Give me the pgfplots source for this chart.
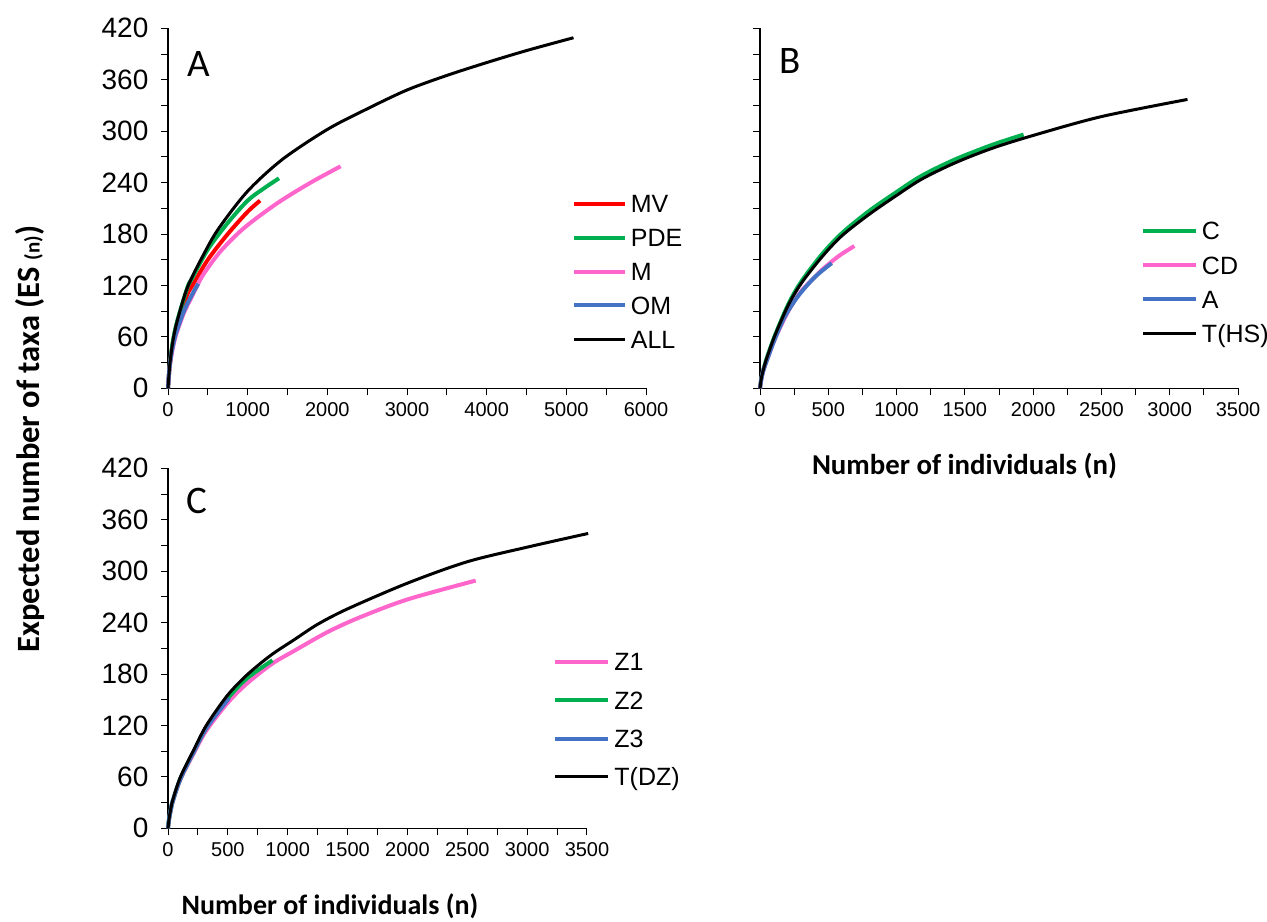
\documentclass[border=0pt]{standalone}
\usepackage{fontspec}
\setmainfont{Liberation Sans}
\newfontfamily\calibri{Carlito}
\usepackage{pgfplots}
\pgfplotsset{compat=1.18}
\definecolor{cred}{HTML}{FF0000}
\definecolor{cgreen}{HTML}{00B050}
\definecolor{cpink}{HTML}{FF66CC}
\definecolor{cblue}{HTML}{4472C4}
\pgfplotsset{
  panel/.style={
    scale only axis, axis x line=bottom, axis y line=left,
    axis line style={-, line width=0.75pt},
    tick align=outside, major tick length=3.5pt, minor tick length=3.5pt,
    tick style={black, line width=0.5pt},
    ymin=0, ymax=420, ytick={0,60,...,420}, minor y tick num=1,
    xmin=0, minor x tick num=1,
    height=180pt,
    /pgf/number format/1000 sep={},
    /pgf/number format/assume math mode=true,
    yticklabel style={font=\fontsize{14}{16}\selectfont, xshift=-2.8pt},
    xticklabel style={font=\fontsize{10}{12}\selectfont},
    clip=false,
    legend cell align=left,
    legend style={draw=none, fill=none, inner sep=0pt, outer sep=0pt, anchor=north west,
      font=\fontsize{12.5}{14}\selectfont, column sep=2pt,
      nodes={inner sep=0pt, text height=9pt, text depth=0pt}},
  },
  colline/.style={line width=2pt, smooth},
  blkline/.style={line width=1.5pt, smooth, black},
}
\begin{document}
\begin{tikzpicture}
\useasboundingbox (0,0) rectangle (633.5pt,460.5pt);
% Panel A
\begin{axis}[panel, at={(84pt,266.35pt)}, anchor=south west, width=239pt,
  xmax=6000, xtick={0,1000,...,6000},
  legend style={at={(0.845,0.537)}, row sep=7.9pt},
  legend image code/.code={\draw[#1] (0pt,0pt) -- (25.5pt,0pt);}]
\addplot[colline, cred] coordinates {(0,0)(10,13)(25,29)(65,55)(120,78)(245,110)(300,119)(500,150)(750,180)(1000,206)(1156,219)};
\addlegendentry{MV}
\addplot[colline, cgreen] coordinates {(0,0)(10,13)(25,30)(65,57)(120,80)(245,118)(300,128)(500,162)(750,193)(1000,219)(1200,233)(1393,245)};
\addlegendentry{PDE}
\addplot[colline, cpink] coordinates {(0,0)(8,11)(20,24)(50,42)(100,62)(200,88)(300,107)(368,120)(452,134)(661,160)(954,187)(1372,216)(1791,240)(2167,259)};
\addlegendentry{M}
\addplot[colline, cblue] coordinates {(0,0)(8,12)(20,25)(50,44)(100,64)(200,90)(300,109)(380,122)};
\addlegendentry{OM}
\addplot[blkline] coordinates {(0,0)(10,13)(25,30)(65,57)(120,80)(245,118)(452,157)(640,187)(1000,230)(1435,267)(2000,302)(2500,326)(3000,348)(3500,365)(4000,380)(4500,394)(5090,409)};
\addlegendentry{ALL}
\end{axis}
% Panel B
\begin{axis}[panel, at={(380pt,266.35pt)}, anchor=south west, width=239pt,
  xmax=3500, xtick={0,500,...,3500}, yticklabel=\empty,
  legend style={at={(0.797,0.462)}, row sep=8.1pt},
  legend image code/.code={\draw[#1] (0pt,0pt) -- (26.5pt,0pt);}]
\addplot[colline, cgreen] coordinates {(0,0)(10,12)(25,22)(49,35)(110,62)(207,98)(300,124)(452,156)(600,181)(800,207)(1000,229)(1184,248)(1428,267)(1700,284)(1930,296)};
\addlegendentry{C}
\addplot[colline, cpink] coordinates {(0,0)(10,11)(25,21)(49,32)(110,58)(207,90)(300,113)(403,130)(452,138)(574,154)(691,166)};
\addlegendentry{CD}
\addplot[colline, cblue] coordinates {(0,0)(10,11)(25,21)(49,32)(110,58)(183,84)(281,108)(403,130)(525,146)};
\addlegendentry{A}
\addplot[blkline] coordinates {(0,0)(10,12)(25,22)(49,35)(110,62)(207,97)(300,122)(452,153)(600,178)(800,203)(1000,225)(1184,244)(1428,263)(1700,280)(2000,295)(2500,317)(3130,337)};
\addlegendentry{T(HS)}
\end{axis}
% Panel C
\begin{axis}[panel, at={(84pt,46.35pt)}, anchor=south west, width=209.5pt,
  xmax=3500, xtick={0,500,...,3500},
  legend style={at={(0.919,0.487)}, row sep=10.15pt},
  legend image code/.code={\draw[#1] (0pt,0pt) -- (26.7pt,0pt);}]
\addplot[colline, cpink] coordinates {(0,0)(10,11)(25,22)(40,31)(104,57)(217,88)(320,114)(496,146)(660,169)(870,192)(1054,207)(1333,229)(1600,246)(2000,267)(2570,289)};
\addlegendentry{Z1}
\addplot[colline, cgreen] coordinates {(0,0)(10,12)(25,23)(40,32)(104,58)(217,90)(320,117)(496,151)(660,175)(873,196)};
\addlegendentry{Z2}
\addplot[colline, cblue] coordinates {(0,0)(10,12)(25,23)(40,32)(104,58)(217,90)(320,117)(510,152)};
\addlegendentry{Z3}
\addplot[blkline] coordinates {(0,0)(10,12)(25,24)(40,33)(104,60)(217,92)(320,120)(496,155)(660,179)(860,202)(1054,220)(1250,238)(1500,256)(2000,286)(2500,311)(3000,328)(3510,344)};
\addlegendentry{T(DZ)}
\end{axis}
% panel letters and shared labels
\node[font=\calibri\fontsize{19.5}{22}\selectfont] at (99.5pt,428.5pt) {A};
\node[font=\calibri\fontsize{19.5}{22}\selectfont] at (395pt,430pt) {B};
\node[font=\calibri\fontsize{19.5}{22}\selectfont] at (98.5pt,210pt) {C};
\node[rotate=90, font=\calibri\bfseries\fontsize{16.25}{18}\selectfont] at (15pt,241pt) {Expected number of taxa (ES {\fontsize{10.5}{12}\selectfont (n)})};
\node[font=\calibri\bfseries\fontsize{14.4}{16}\selectfont] at (482.25pt,227.5pt) {Number of individuals (n)};
\node[font=\calibri\bfseries\fontsize{14}{16}\selectfont] at (165pt,7.5pt) {Number of individuals (n)};
\end{tikzpicture}
\end{document}
